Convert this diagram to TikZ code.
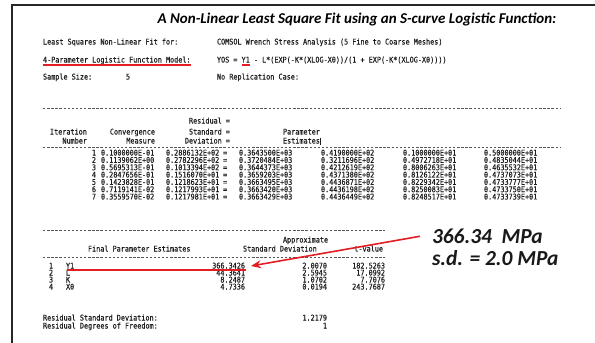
\documentclass[tikz,border=0pt]{standalone}
\usepackage{fontspec}
\setmainfont{Carlito}
\newfontfamily\codefont{DejaVu Sans Mono}[WordSpace={1,0,0},FakeStretch=0.873,FakeBold=0.25]
\usetikzlibrary{arrows.meta}
\definecolor{markred}{RGB}{226,30,36}
\definecolor{codegray}{RGB}{30,30,30}

% place a piece of program output at (x, baseline)
\newcommand\codeat[5][base west]{%
  \node[code,anchor=#1] (#2) at (#3,#4) {#5};}

\tikzset{
  code/.style={inner sep=0pt, outer sep=0pt,
    font=\codefont\fontsize{7.8}{8}\selectfont, text=codegray},
  rule/.style={codegray!75, line width=0.6pt, dash pattern=on 2.4pt off 1.7pt},
  redmark/.style={markred, line width=1.6pt},
  note/.style={inner sep=0pt, outer sep=0pt, anchor=base west,
    font=\fontsize{21.4}{24}\selectfont\bfseries\itshape, text=black!90},
}

\begin{document}
\begin{tikzpicture}[x=1pt,y=-1pt]
\fill[white] (0,0) rectangle (595,343);
\useasboundingbox (0,0) rectangle (595,343);

% slide frame
\coordinate (fbl) at (11.5,343);
\coordinate (ftl) at (11.5,5);
\coordinate (ftr) at (595,5);
\draw[line width=2pt, black!85] (fbl) -- (ftl) -- (ftr);

% title
\node[inner sep=0pt, anchor=base, font=\fontsize{15}{18}\selectfont\bfseries\itshape]
  (title) at (357,23.5) {A Non-Linear Least Square Fit using an S-curve Logistic Function:};

% problem description
\codeat{fitlbl}{43}{44.5}{Least Squares Non-Linear Fit for:}
\codeat{fitval}{217}{44.5}{COMSOL Wrench Stress Analysis (5 Fine to Coarse Meshes)}
\codeat{modlbl}{43}{62.5}{4-Parameter Logistic Function Model:}
\codeat{modval}{217}{62.5}{YOS = Y1 - L*(EXP(-K*(XLOG-X0))/(1 + EXP(-K*(XLOG-X0))))}
\codeat{szlbl}{43}{79.5}{Sample Size:}
\codeat{szval}{126}{79.5}{5}
\codeat{replbl}{217}{79.5}{No Replication Case:}

% iteration history
\coordinate (r1a) at (43,108);  \coordinate (r1b) at (560,108);
\coordinate (r2a) at (43,147);  \coordinate (r2b) at (560,147);
\draw[rule] (r1a) -- (r1b);
\draw[rule] (r2a) -- (r2b);

\codeat[base east]{hres}{230}{123.5}{Residual =}
\codeat{hit}{50}{134.5}{Iteration}
\codeat[base east]{hconv}{155}{134.5}{Convergence}
\codeat[base east]{hstd}{230}{134.5}{Standard =}
\codeat{hpar}{283}{134.5}{Parameter}
\codeat[base east]{hnum}{87}{143.5}{Number}
\codeat[base east]{hmeas}{155}{143.5}{Measure}
\codeat[base east]{hdev}{230}{143.5}{Deviation =}
\codeat{hest}{283}{143.5}{Estimates}
\coordinate (cur) at ([xshift=0.7pt]hest.base east);
\draw[codegray, line width=0.5pt] ([yshift=6pt]cur) -- ([yshift=-1.5pt]cur);

\foreach \r/\a/\b/\c/\d/\e/\f in {
  1/0.1000000E-01/0.2886132E+02/0.3643500E+03/0.4190000E+02/0.1000000E+01/0.5000000E+01,
  2/0.1139062E+00/0.2782296E+02/0.3720484E+03/0.3211696E+02/0.4972718E+01/0.4835044E+01,
  3/0.5695313E-01/0.1013394E+02/0.3644373E+03/0.4212619E+02/0.8006263E+01/0.4635532E+01,
  4/0.2847656E-01/0.1516070E+01/0.3659203E+03/0.4371380E+02/0.8126122E+01/0.4737073E+01,
  5/0.1423828E-01/0.1218623E+01/0.3663495E+03/0.4436871E+02/0.8229342E+01/0.4733777E+01,
  6/0.7119141E-02/0.1217993E+01/0.3663420E+03/0.4436198E+02/0.8250083E+01/0.4733750E+01,
  7/0.3559570E-02/0.1217981E+01/0.3663429E+03/0.4436449E+02/0.8248517E+01/0.4733739E+01}{
  \pgfmathsetmacro\yy{155.5+(\r-1)*7.33}
  \codeat[base east]{it\r n}{96}{\yy}{\r}
  \codeat{it\r a}{101}{\yy}{\a}
  \codeat{it\r b}{166}{\yy}{\b}
  \codeat{it\r q}{223}{\yy}{=}
  \codeat{it\r c}{239}{\yy}{\c}
  \codeat{it\r d}{321}{\yy}{\d}
  \codeat{it\r e}{403}{\yy}{\e}
  \codeat{it\r f}{484}{\yy}{\f}
}

% final estimates
\coordinate (r3a) at (43,230);  \coordinate (r3b) at (385,230);
\coordinate (r4a) at (43,257);  \coordinate (r4b) at (385,257);
\draw[rule] (r3a) -- (r3b);
\draw[rule] (r4a) -- (r4b);

\codeat{fapx}{283}{242.5}{Approximate}
\codeat{ffpe}{88}{251.5}{Final Parameter Estimates}
\codeat{fsd}{243}{251.5}{Standard Deviation}
\codeat[base east]{ftv}{383}{251.5}{t-value}

\foreach \r/\n/\v/\s/\t in {1/Y1/366.3426/2.0070/182.5263, 2/L/44.3641/2.5945/17.0992,
  3/K/8.2487/1.0702/7.7076, 4/X0/4.7336/0.0194/243.7687}{
  \pgfmathsetmacro\yy{268.5+(\r-1)*7}
  \codeat{f\r i}{49}{\yy}{\r}
  \codeat{f\r n}{66}{\yy}{\n}
  \codeat[base east]{f\r v}{245}{\yy}{\v}
  \codeat[base east]{f\r s}{327}{\yy}{\s}
  \codeat[base east]{f\r t}{385}{\yy}{\t}
}

\codeat{rsdl}{43}{320.5}{Residual Standard Deviation:}
\codeat[base east]{rsdv}{327}{320.5}{1.2179}
\codeat{rdfl}{43}{328.5}{Residual Degrees of Freedom:}
\codeat[base east]{rdfv}{327}{328.5}{1}

% red highlights
\draw[redmark] ([yshift=-2.4pt]modlbl.base west) -- ([yshift=-2.4pt]modlbl.base east);
\coordinate (y1a) at ({217+6*4.1},65.2);
\coordinate (y1b) at ({217+8*4.1},65.2);
\draw[redmark] (y1a) -- (y1b);
\draw[redmark] ([xshift=1pt,yshift=-1.5pt]f1n.base west) -- ([xshift=1pt,yshift=-1.5pt]f1v.base east);

\node[note] (val) at (432,243.5) {366.34\ \ MPa};
\node[note] (sdv) at (432,265.5) {s.d. = 2.0 MPa};
\coordinate (tip) at ([xshift=6pt,yshift=2.5pt]f1v.base east);
\draw[redmark, -{Stealth[length=10pt,width=8pt]}] ([xshift=-12pt]val.west) -- (tip);
\end{tikzpicture}
\end{document}
